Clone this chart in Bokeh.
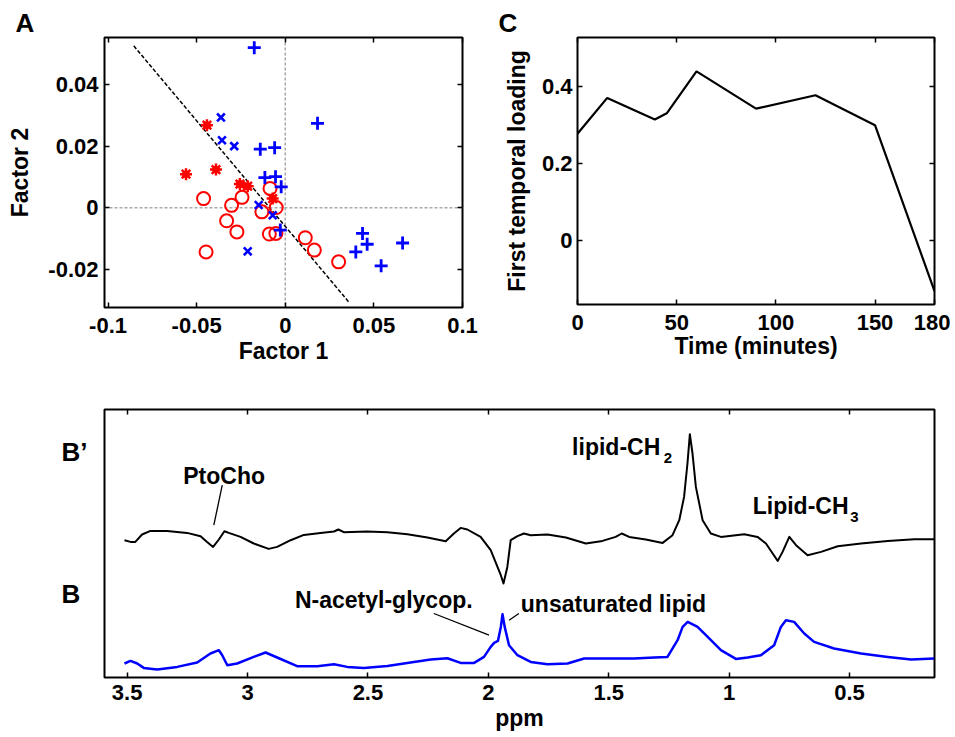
from bokeh.plotting import figure
from bokeh.layouts import column, row
from bokeh.models import (Range1d, FixedTicker, LinearAxis, Span, Label,
                          CustomJSTickFormatter)
from bokeh.embed import file_html
from bokeh.resources import INLINE

FONT = "Liberation Sans"

# ---------------- Panel A data (factor scores) ----------------
plus_x = [-0.0175, 0.0182, -0.0141, -0.0060, -0.0115, -0.0055, -0.0023, -0.0028,
          0.0436, 0.0462, 0.0398, 0.0662, 0.0541]
plus_y = [0.0519, 0.0274, 0.0190, 0.0195, 0.0098, 0.0101, 0.0068, -0.0072,
          -0.0083, -0.0118, -0.0143, -0.0114, -0.0188]
xmark_x = [-0.0363, -0.0357, -0.0288, -0.0150, -0.0071, -0.0212]
xmark_y = [0.0293, 0.0219, 0.0200, 0.0009, -0.0024, -0.0141]
star_x = [-0.0442, -0.0391, -0.0560, -0.0256, -0.0212, -0.0071]
star_y = [0.0268, 0.0124, 0.0109, 0.0077, 0.0070, 0.0030]
circle_x = [-0.0461, -0.0303, -0.0244, -0.0086, -0.0132, -0.0051, -0.0331, -0.0273,
            -0.0090, -0.0053, -0.0447, 0.0113, 0.0164, 0.0301]
circle_y = [0.0030, 0.0008, 0.0034, 0.0063, -0.0013, 0.0001, -0.0042, -0.0078,
            -0.0085, -0.0083, -0.0143, -0.0097, -0.0137, -0.0175]
boundary_x = [-0.0855, 0.0361]
boundary_y = [0.0525, -0.0307]

a_xticks = [-0.1, -0.05, 0, 0.05, 0.1]
a_xlabels = ["-0.1", "-0.05", "0", "0.05", "0.1"]
a_yticks = [-0.02, 0, 0.02, 0.04]
a_ylabels = ["-0.02", "0", "0.02", "0.04"]

# ---------------- Panel C data (temporal loading) ----------------
time_min = [0, 15, 39, 45, 60, 90, 120, 150, 180]
loading = [0.278, 0.371, 0.315, 0.331, 0.440, 0.343, 0.378, 0.300, -0.131]
c_xticks = [0, 50, 100, 150, 180]
c_xlabels = ["0", "50", "100", "150", "180"]
c_yticks = [0, 0.2, 0.4]
c_ylabels = ["0", "0.2", "0.4"]

# ---------------- Panel B data (spectra, a.u.) ----------------
ppm_bprime = [3.511, 3.486, 3.466, 3.438, 3.403, 3.334, 3.251, 3.195, 3.168, 3.143,
              3.119, 3.096, 3.078, 3.029, 2.974, 2.912, 2.877, 2.821, 2.766, 2.697,
              2.641, 2.623, 2.600, 2.503, 2.419, 2.336, 2.253, 2.177, 2.143, 2.115,
              2.087, 2.032, 1.990, 1.962, 1.948, 1.937, 1.921, 1.907, 1.879, 1.852,
              1.824, 1.754, 1.678, 1.595, 1.526, 1.471, 1.446, 1.415, 1.346, 1.276,
              1.235, 1.207, 1.187, 1.173, 1.163, 1.152, 1.138, 1.110, 1.076, 1.034,
              0.937, 0.882, 0.847, 0.819, 0.798, 0.778, 0.750, 0.722, 0.674, 0.618,
              0.549, 0.452, 0.341, 0.231, 0.148]
int_bprime = [1.373, 1.356, 1.356, 1.430, 1.466, 1.466, 1.446, 1.413, 1.356, 1.306,
              1.380, 1.463, 1.446, 1.406, 1.340, 1.286, 1.306, 1.373, 1.426, 1.446,
              1.460, 1.480, 1.453, 1.460, 1.453, 1.433, 1.400, 1.363, 1.440, 1.496,
              1.480, 1.406, 1.273, 1.106, 1.023, 0.940, 1.106, 1.373, 1.413, 1.440,
              1.423, 1.430, 1.400, 1.340, 1.366, 1.406, 1.440, 1.406, 1.380, 1.346,
              1.423, 1.573, 1.806, 2.140, 2.433, 2.240, 1.906, 1.573, 1.440, 1.406,
              1.433, 1.406, 1.340, 1.240, 1.166, 1.256, 1.406, 1.323, 1.223, 1.256,
              1.313, 1.340, 1.366, 1.383, 1.383]
ppm_b = [3.511, 3.486, 3.458, 3.431, 3.375, 3.292, 3.209, 3.154, 3.119, 3.105,
         3.084, 3.043, 2.974, 2.925, 2.877, 2.794, 2.710, 2.641, 2.586, 2.517,
         2.419, 2.323, 2.239, 2.170, 2.115, 2.059, 2.018, 1.990, 1.976, 1.960,
         1.948, 1.941, 1.932, 1.914, 1.879, 1.824, 1.754, 1.671, 1.602, 1.505,
         1.394, 1.311, 1.256, 1.214, 1.193, 1.172, 1.131, 1.089, 1.034, 0.972,
         0.923, 0.868, 0.813, 0.785, 0.764, 0.730, 0.688, 0.647, 0.564, 0.452,
         0.341, 0.244, 0.148]
int_b = [0.140, 0.166, 0.140, 0.096, 0.080, 0.106, 0.150, 0.240, 0.273, 0.223,
         0.123, 0.140, 0.206, 0.250, 0.200, 0.113, 0.113, 0.133, 0.106, 0.096,
         0.116, 0.150, 0.180, 0.193, 0.146, 0.146, 0.206, 0.306, 0.346, 0.366,
         0.506, 0.633, 0.506, 0.323, 0.223, 0.156, 0.133, 0.140, 0.190, 0.190,
         0.190, 0.200, 0.206, 0.373, 0.506, 0.556, 0.506, 0.406, 0.273, 0.186,
         0.200, 0.223, 0.323, 0.506, 0.573, 0.556, 0.440, 0.356, 0.290, 0.240,
         0.206, 0.180, 0.190]
b_xticks = [3.5, 3, 2.5, 2, 1.5, 1, 0.5]
b_xlabels = ["3.5", "3", "2.5", "2", "1.5", "1", "0.5"]
# the two trace names sit on the left axis, at the level of each trace
b_trace_levels = [2.258, 0.833]
b_trace_names = ["B\u2019", "B\u00a0"]

# annotation leader lines (ppm, a.u.)
ptocho_line_x = [3.105, 3.140]
ptocho_line_y = [1.923, 1.523]
nacetyl_line_x = [2.226, 1.997]
nacetyl_line_y = [0.640, 0.423]
unsat_line_x = [1.914, 1.873]
unsat_line_y = [0.573, 0.640]

TICK_SIZE = "22px"
LABEL_SIZE = "23px"
LETTER_SIZE = "26px"
NOTE_SIZE = "23px"
SUB_SIZE = "15px"


def tick_fmt(ticks, labels):
    return CustomJSTickFormatter(args=dict(t=list(ticks), l=list(labels)), code="""
let best = 0, bd = Infinity;
for (let i = 0; i < t.length; i++) { const d = Math.abs(t[i] - tick); if (d < bd) { bd = d; best = i; } }
return l[best];
""")


def style_axis(ax, ticks, labels=None, standoff=6):
    ax.ticker = FixedTicker(ticks=list(ticks))
    if labels is None:
        ax.formatter = CustomJSTickFormatter(code="return '';")
        ax.major_label_text_font_size = "0px"
        ax.major_label_standoff = 0
    else:
        ax.formatter = tick_fmt(ticks, labels)
        ax.major_label_text_font_size = TICK_SIZE
        ax.major_label_standoff = standoff
    ax.major_tick_in = 5
    ax.major_tick_out = 0
    ax.major_tick_line_color = "black"
    ax.major_tick_line_width = 1.5
    ax.minor_tick_line_color = None
    ax.axis_line_color = None
    ax.major_label_text_font = FONT
    ax.major_label_text_font_style = "bold"
    ax.major_label_text_color = "black"
    ax.axis_label_text_font = FONT
    ax.axis_label_text_font_style = "bold"
    ax.axis_label_text_font_size = LABEL_SIZE
    ax.axis_label_text_color = "black"


def base_fig(fw, fh, xr, yr, ml, mr, mt, mb, letter=None, letter_offset=0):
    kw = {}
    if letter is not None:
        kw["title"] = letter
    p = figure(frame_width=fw, frame_height=fh, x_range=xr, y_range=yr,
               output_backend="svg", toolbar_location=None,
               min_border_left=ml, min_border_right=mr,
               min_border_top=mt, min_border_bottom=mb, **kw)
    p.outline_line_color = "black"
    p.outline_line_width = 2
    p.outline_line_alpha = 1
    p.grid.visible = False
    p.background_fill_color = "white"
    p.border_fill_color = "white"
    if letter is not None:
        p.title.align = "left"
        p.title.offset = letter_offset
        p.title.standoff = 0
        p.title.text_font = FONT
        p.title.text_font_style = "bold"
        p.title.text_font_size = LETTER_SIZE
        p.title.text_color = "black"
    return p


# ---------------- Panel A ----------------
pA = base_fig(358, 270, Range1d(-0.102, 0.1), Range1d(-0.0323, 0.0552),
              104, 18, 34, 84, letter="A", letter_offset=-89)
style_axis(pA.xaxis[0], a_xticks, a_xlabels, standoff=10)
style_axis(pA.yaxis[0], a_yticks, a_ylabels, standoff=6)
pA.xaxis[0].axis_label = "Factor 1"
pA.xaxis[0].axis_label_standoff = 2
pA.yaxis[0].axis_label = "Factor 2"
pA.yaxis[0].axis_label_standoff = 12
topA = LinearAxis()
style_axis(topA, a_xticks)
pA.add_layout(topA, "above")
rightA = LinearAxis()
style_axis(rightA, a_yticks)
pA.add_layout(rightA, "right")

pA.add_layout(Span(location=0, dimension="height", line_color="#a8a8a8",
                   line_dash="3 2", line_width=1.5, level="underlay"))
pA.add_layout(Span(location=0, dimension="width", line_color="#a8a8a8",
                   line_dash="3 2", line_width=1.5, level="underlay"))
pA.line(boundary_x, boundary_y, line_color="black", line_dash="4 2", line_width=1.5)
pA.scatter(circle_x, circle_y, marker="circle", size=13, fill_color=None,
           line_color="#ff0000", line_width=2)
pA.scatter(star_x, star_y, marker="circle", size=7, fill_color="#ff0000",
           line_color="#ff0000")
pA.scatter(star_x, star_y, marker="asterisk", size=12, line_color="#ff0000",
           line_width=2.5)
pA.scatter(plus_x, plus_y, marker="cross", size=13, line_color="#0000ff", line_width=2.8)
pA.scatter(xmark_x, xmark_y, marker="x", size=11, line_color="#0000ff", line_width=2.6)

# ---------------- Panel C ----------------
pC = base_fig(357, 267, Range1d(0, 180), Range1d(-0.166, 0.528),
              97, 16, 37, 84, letter="C", letter_offset=-79)
style_axis(pC.xaxis[0], c_xticks, c_xlabels, standoff=10)
style_axis(pC.yaxis[0], c_yticks, c_ylabels, standoff=5)
pC.xaxis[0].axis_label = "Time (minutes)"
pC.xaxis[0].axis_label_standoff = 0
pC.yaxis[0].axis_label = "First temporal loading"
pC.yaxis[0].axis_label_standoff = 9
topC = LinearAxis()
style_axis(topC, c_xticks)
pC.add_layout(topC, "above")
rightC = LinearAxis()
style_axis(rightC, c_yticks)
pC.add_layout(rightC, "right")
pC.line(time_min, loading, line_color="black", line_width=2.2)

# ---------------- Panel B ----------------
pB = base_fig(830, 268, Range1d(3.594, 0.147), Range1d(0, 2.68), 104, 16, 21, 53)
style_axis(pB.xaxis[0], b_xticks, b_xlabels, standoff=7)
pB.xaxis[0].axis_label = "ppm"
pB.xaxis[0].axis_label_standoff = 2
style_axis(pB.yaxis[0], b_trace_levels, b_trace_names, standoff=17)
pB.yaxis[0].major_tick_line_color = None
pB.yaxis[0].major_label_text_font_size = LETTER_SIZE
topB = LinearAxis()
style_axis(topB, b_xticks)
pB.add_layout(topB, "above")

pB.line(ppm_bprime, int_bprime, line_color="black", line_width=2, line_join="round")
pB.line(ppm_b, int_b, line_color="#0000ff", line_width=2.5, line_join="round")
for lx, ly in [(ptocho_line_x, ptocho_line_y), (nacetyl_line_x, nacetyl_line_y),
               (unsat_line_x, unsat_line_y)]:
    pB.line(lx, ly, line_color="black", line_width=1.3)


def note(text, x, y, size=NOTE_SIZE):
    pB.add_layout(Label(x=x, y=y, text=text, text_font=FONT, text_font_style="bold",
                        text_font_size=size, text_color="black",
                        text_baseline="alphabetic", text_align="left"))


note("PtoCho", 3.267, 2.013)
note("N-acetyl-glycop.", 2.803, 0.773)
note("unsaturated lipid", 1.865, 0.733)
note("lipid-CH", 1.652, 2.306)
note("2", 1.271, 2.200, size=SUB_SIZE)
note("Lipid-CH", 0.902, 1.713)
note("3", 0.497, 1.606, size=SUB_SIZE)

layout = column(row(pA, pC), pB)
open("out.html", "w").write(file_html(layout, INLINE))
